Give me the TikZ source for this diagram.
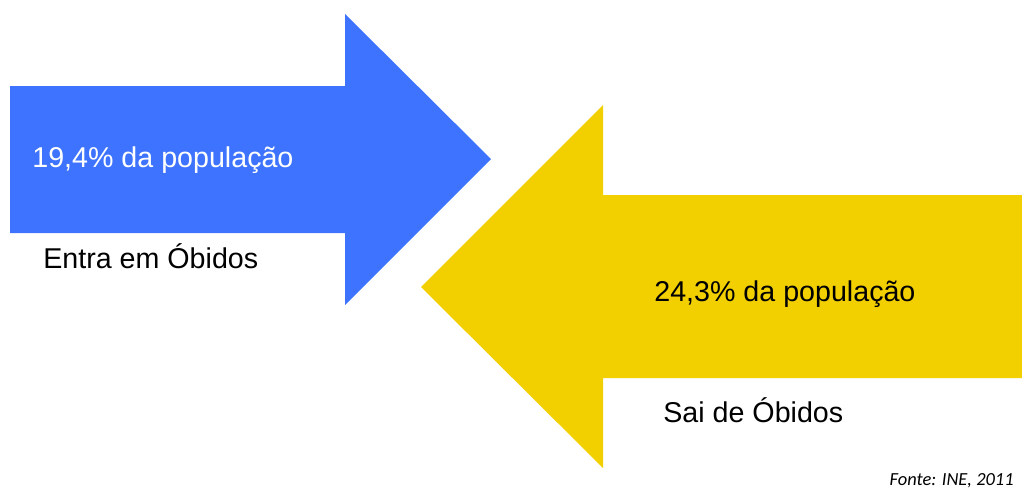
\documentclass[tikz,border=0pt]{standalone}
\usepackage{fontspec}
\setmainfont{Liberation Sans}
\newfontfamily\fontefont{Carlito}
\definecolor{entrablue}{RGB}{61,115,255}
\definecolor{saiyellow}{RGB}{242,208,0}

\begin{document}
\begin{tikzpicture}[x=0.02cm,y=-0.02cm,
  lbl/.style={anchor=base west,inner sep=0pt,font=\fontsize{16.3}{19}\selectfont}]
  \useasboundingbox (0,0) rectangle (1022,501);
  % arrow in
  \fill[entrablue] (10,86) -- (345,86) -- (345,14) -- (491,159)
    -- (345,305) -- (345,233) -- (10,233) -- cycle;
  % arrow out
  \fill[saiyellow] (1022,195) -- (603,195) -- (603,105) -- (421,287)
    -- (603,468) -- (603,378) -- (1022,378) -- cycle;
  \node[lbl,text=white] (inpct) at (32,167) {19,4\% da população};
  \node[lbl] (inlbl) at (43,268) {Entra em Óbidos};
  \node[lbl] (outpct) at (654,301) {24,3\% da população};
  \node[lbl] (outlbl) at (663,422) {Sai de Óbidos};
  \node[anchor=base east,inner sep=0pt,font=\fontefont\itshape\fontsize{10.5}{12}\selectfont]
    (fonte) at (1014,485) {Fonte: INE, 2011};
\end{tikzpicture}
\end{document}
